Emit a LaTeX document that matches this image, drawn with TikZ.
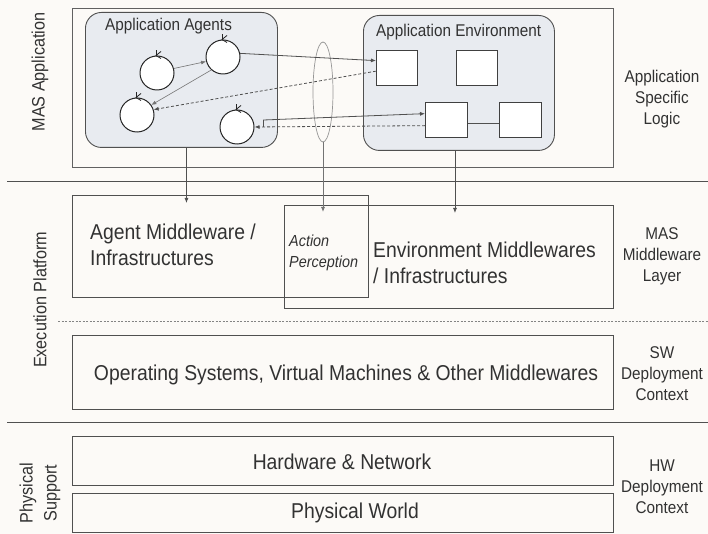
\documentclass[tikz,border=0pt]{standalone}
\usepackage{fontspec}
\setmainfont{Liberation Sans}[FakeStretch=0.9]
\usetikzlibrary{arrows.meta,shapes.geometric,calc}
\definecolor{bg}{RGB}{252,250,247}
\definecolor{ln}{RGB}{80,80,80}
\definecolor{tx}{RGB}{50,50,50}
\definecolor{grp}{RGB}{232,235,240}
\newcommand{\bigf}{\fontsize{21.5}{26}\selectfont}
\newcommand{\midf}{\fontsize{17}{21}\selectfont}
\newcommand{\lblf}{\fontsize{18}{24}\selectfont}
\newcommand{\actf}{\fontsize{16}{21}\selectfont\itshape}
\begin{document}
\begin{tikzpicture}[x=1pt,y=-1pt,
  every node/.style={text=tx, inner sep=0pt},
  layerbox/.style={draw=ln, line width=1.1pt, rectangle, anchor=north west},
  grpbox/.style={draw=ln, line width=0.9pt, fill=grp, rounded corners=16pt, rectangle, anchor=north west},
  artbox/.style={draw=ln!80!black, line width=1.3pt, fill=white, rectangle, anchor=north west, minimum width=41pt, minimum height=35pt},
  agentc/.style={draw=black!85, line width=1pt, circle, fill=white, minimum size=34pt},
  arr/.style={-{Latex[length=5pt,width=4pt]}, draw=ln, line width=0.8pt},
  sep/.style={draw=ln, line width=1pt},
  rlabel/.style={align=center, font=\midf},
]
\fill[bg] (0,0) rectangle (708,534);
\useasboundingbox (0,0) rectangle (708,534);

% separators
\draw[sep] (7,182) -- (708,182);
\draw[sep, line width=0.8pt, dash pattern=on 2pt off 1.5pt, draw=ln!70] (58,321) -- (708,321);
\draw[sep] (7,422) -- (708,422);

% MAS application layer
\node[layerbox, draw=ln!90, minimum width=541pt, minimum height=159pt] (masapp) at (72,8) {};
\node[grpbox, minimum width=192pt, minimum height=135pt] (agents) at (85,12) {};
\node[grpbox, minimum width=191pt, minimum height=135pt] (env) at (363,15) {};
\node[anchor=west, font=\midf] (agentsT) at (105,26) {Application Agents};
\node[anchor=west, font=\midf] (envT) at (376,32) {Application Environment};

\node[artbox] (e1) at (376,50) {};
\node[artbox] (e2) at (456,50) {};
\node[artbox, minimum width=42pt] (e3) at (425,102) {};
\node[artbox, minimum width=42pt] (e4) at (499,102) {};

\node[agentc] (c1) at (157,73) {};
\node[agentc] (c2) at (223,57) {};
\node[agentc] (c3) at (137,115) {};
\node[agentc] (c4) at (237,127) {};
\foreach \c in {c1,c2,c3,c4}{
  \draw[line width=0.8pt, black!85] ($(\c.north)+(4,-4)$) -- ($(\c.north)+(-1,0)$) -- ($(\c.north)+(4,3)$);
  \draw[line width=0.8pt, black!85] ($(\c.north)+(-1,0)$) -- ($(\c.north)+(-1,-5)$);
}

\node[ellipse, draw=ln!60, line width=0.7pt, minimum width=20pt, minimum height=100pt] (ap) at (323,92) {};

% inner connectors
\draw[arr, line width=0.6pt, draw=ln!80] (c1.15) -- (c2.195);
\draw[arr, line width=0.6pt, draw=ln!80] (c2.228) -- (c3.35);
\draw[arr] (c2.12) -- ($(e1.west)+(0,-7.5)$);
\draw[arr, dashed, dash pattern=on 3pt off 2pt] ($(e1.west)+(0,3)$) -- (c3.18);
\draw[arr] ($(c4.east)+(9,0)$) -- ($(c4.east)+(9,-7)$) -- ($(e3.west)+(0,-6.5)$);
\draw[arr, dashed, dash pattern=on 3pt off 2pt] ($(e3.west)+(0,5.5)$) -- (c4.east);
\draw[line width=0.8pt, draw=ln] ($(e3.east)+(0,3)$) -- ($(e4.west)+(0,3)$);

% middleware layer
\node[layerbox, minimum width=296pt, minimum height=102pt] (agentmw) at (72,195) {};
\node[layerbox, minimum width=329pt, minimum height=103pt] (envmw) at (284,205) {};
\node[anchor=west, align=left, font=\bigf] (agentmwT) at (90,245) {Agent Middleware /\\Infrastructures};
\node[anchor=west, align=left, font=\actf] (actT) at (289,252.5) {Action\\Perception};
\node[anchor=west, align=left, font=\bigf] (envmwT) at (373,263) {Environment Middlewares\\/ Infrastructures};

\draw[arr] ($(agents.south)+(5,0)$) -- ($(agents.south |- agentmw.north)+(5,8)$);
\draw[arr] ($(env.south)+(-4,0)$) -- ($(env.south |- envmw.north)+(-4,8)$);
\draw[arr, draw=ln!80] (ap.south) -- ($(ap.south |- envmw.north)+(0,7)$);

% lower layers
\node[layerbox, minimum width=541pt, minimum height=74pt] (os) at (72,335) {};
\node[font=\bigf] (osT) at (346,375) {Operating Systems, Virtual Machines \& Other Middlewares};
\node[layerbox, minimum width=541pt, minimum height=49pt] (hw) at (72,436) {};
\node[font=\bigf] (hwT) at (342,462) {Hardware \& Network};
\node[layerbox, minimum width=541pt, minimum height=39pt] (pw) at (72,493) {};
\node[font=\bigf] (pwT) at (355,513) {Physical World};

% right labels
\node[rlabel] (r1) at (662,99) {Application\\Specific\\Logic};
\node[rlabel] (r2) at (662,256) {MAS\\Middleware\\Layer};
\node[rlabel] (r3) at (662,374) {SW\\Deployment\\Context};
\node[rlabel] (r4) at (662,487) {HW\\Deployment\\Context};

% left labels
\node[rotate=90, font=\lblf] (l1) at (40,72) {MAS Application};
\node[rotate=90, font=\lblf] (l2) at (40,300) {Execution Platform};
\node[rotate=90, font=\lblf, align=center] (l3) at (40,493) {Physical\\Support};
\end{tikzpicture}
\end{document}
